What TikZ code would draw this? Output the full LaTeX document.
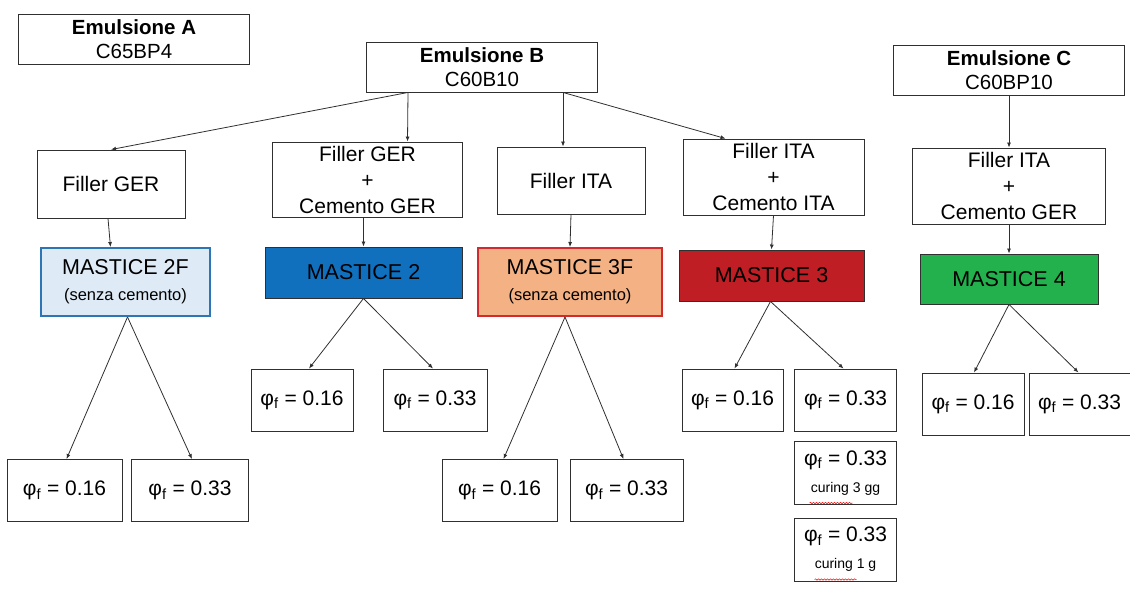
\documentclass[tikz,border=0pt]{standalone}
\usepackage{fontspec}
\setmainfont{Liberation Sans}
\usetikzlibrary{arrows.meta,decorations.pathmorphing}
\definecolor{edgegray}{HTML}{303030}
\definecolor{lightblue}{HTML}{DEEBF7}
\definecolor{midblue}{HTML}{2E75B6}
\definecolor{strongblue}{HTML}{1170BE}
\definecolor{peach}{HTML}{F4B183}
\definecolor{brightred}{HTML}{D32A2E}
\definecolor{darkred}{HTML}{BE1E24}
\definecolor{leafgreen}{HTML}{22B14C}

\begin{document}
\begin{tikzpicture}[x=1pt,y=-1pt]
\tikzstyle{every node}=[draw=edgegray,line width=0.9pt,inner sep=0pt,align=center]
\tikzstyle{emul}=[minimum width=231pt,minimum height=50pt,font=\fontsize{20.5}{24}\selectfont]
\tikzstyle{filler}=[font=\fontsize{21}{26}\selectfont]
\tikzstyle{mastice}=[font=\fontsize{21.5}{26}\selectfont]
\tikzstyle{phibox}=[minimum height=62pt,font=\fontsize{21}{24}\selectfont]
\tikzstyle{arr}=[draw=edgegray,line width=0.8pt,-{Latex[length=5pt,width=4pt]}]
\tikzstyle{squiggle}=[draw=red,line width=0.5pt,decorate,decoration={snake,amplitude=0.7pt,segment length=3pt}]
\useasboundingbox (0,0) rectangle (1130,614);

\node[emul] (eA) at (134,39) {\textbf{Emulsione A}\\C65BP4};
\node[emul] (eB) at (482,67) {\textbf{Emulsione B}\\C60B10};
\node[emul,minimum width=231pt] (eC) at (1009,70) {\textbf{Emulsione C}\\C60BP10};

\node[filler,minimum width=148pt,minimum height=68pt] (fGER) at (111,184) {Filler GER};
\node[filler,minimum width=190pt,minimum height=75pt] (fGC) at (367.5,179.5) {Filler GER\\+\\Cemento GER};
\node[filler,minimum width=148pt,minimum height=67pt] (fITA) at (571,180.5) {Filler ITA};
\node[filler,minimum width=181pt,minimum height=76pt] (fIC) at (773.5,177) {Filler ITA\\+\\Cemento ITA};
\node[filler,minimum width=193pt,minimum height=76pt] (fICG) at (1009,186) {Filler ITA\\+\\Cemento GER};

\node[mastice,fill=lightblue,draw=midblue,line width=2pt,minimum width=169pt,minimum height=68pt] (m2F) at (125.5,282) {MASTICE 2F\\{\fontsize{16.5}{19}\selectfont (senza cemento)}};
\node[mastice,fill=strongblue,minimum width=197pt,minimum height=51pt] (m2) at (363.5,272.5) {MASTICE 2};
\node[mastice,fill=peach,draw=brightred,line width=2pt,minimum width=184pt,minimum height=68pt] (m3F) at (570,282) {MASTICE 3F\\{\fontsize{16.5}{19}\selectfont (senza cemento)}};
\node[mastice,fill=darkred,minimum width=185pt,minimum height=51pt] (m3) at (771.5,275.5) {MASTICE 3};
\node[mastice,fill=leafgreen,minimum width=178pt,minimum height=50pt] (m4) at (1009,279) {MASTICE 4};

\node[phibox,minimum width=115pt] (p2Fa) at (64.5,490.5) {φ\textsubscript{f} = 0.16};
\node[phibox,minimum width=117pt] (p2Fb) at (190,490.5) {φ\textsubscript{f} = 0.33};
\node[phibox,minimum width=102pt] (p2a) at (302,400) {φ\textsubscript{f} = 0.16};
\node[phibox,minimum width=104pt] (p2b) at (435,400) {φ\textsubscript{f} = 0.33};
\node[phibox,minimum width=115pt] (p3Fa) at (499.5,490.5) {φ\textsubscript{f} = 0.16};
\node[phibox,minimum width=113pt] (p3Fb) at (626.5,490.5) {φ\textsubscript{f} = 0.33};
\node[phibox,minimum width=101pt] (p3a) at (732.5,400) {φ\textsubscript{f} = 0.16};
\node[phibox,minimum width=102pt] (p3b) at (845.5,400) {φ\textsubscript{f} = 0.33};
\node[phibox,minimum width=102pt,minimum height=63pt] (p3c) at (845.5,473) {φ\textsubscript{f} = 0.33\\[3pt]{\fontsize{14}{16}\selectfont curing 3 gg}};
\node[phibox,minimum width=102pt,minimum height=63pt] (p3d) at (845.5,549.5) {φ\textsubscript{f} = 0.33\\[3pt]{\fontsize{14}{16}\selectfont curing 1 g}};
\node[phibox,minimum width=102pt] (p4a) at (973,404) {φ\textsubscript{f} = 0.16};
\node[phibox,minimum width=101pt] (p4b) at (1079.5,404) {φ\textsubscript{f} = 0.33};

\draw[squiggle] ([xshift=-36pt,yshift=-30pt]p3c.center) -- ++(43,0);
\draw[squiggle] ([xshift=-31pt,yshift=-30pt]p3d.center) -- ++(42,0);

\draw[arr] ([xshift=-74pt]eB.south) -- (fGER.north);
\draw[arr] ([xshift=-74pt]eB.south) -- ([xshift=40pt]fGC.north);
\draw[arr] ([xshift=81pt]eB.south) -- ([xshift=-8pt]fITA.north);
\draw[arr] ([xshift=81pt]eB.south) -- ([xshift=-48pt]fIC.north);
\draw[arr] (eC.south) -- (fICG.north);

\draw[arr] ([xshift=-3pt]fGER.south) -- ([xshift=-15pt]m2F.north);
\draw[arr] ([xshift=-4pt]fGC.south) -- (m2.north);
\draw[arr] (fITA.south) -- (m3F.north);
\draw[arr] (fIC.south) -- (m3.north);
\draw[arr] (fICG.south) -- (m4.north);

\draw[arr] ([xshift=2pt]m2F.south) -- ([xshift=2pt]p2Fa.north);
\draw[arr] ([xshift=2pt]m2F.south) -- ([xshift=2pt]p2Fb.north);
\draw[arr] (m2.south) -- ([xshift=7pt]p2a.north);
\draw[arr] (m2.south) -- ([xshift=-2pt]p2b.north);
\draw[arr] ([xshift=-5pt]m3F.south) -- ([xshift=4pt]p3Fa.north);
\draw[arr] ([xshift=-5pt]m3F.south) -- ([xshift=-3pt]p3Fb.north);
\draw[arr] ([xshift=-1pt]m3.south) -- ([xshift=2pt]p3a.north);
\draw[arr] ([xshift=-1pt]m3.south) -- ([xshift=-2pt]p3b.north);
\draw[arr] (m4.south) -- ([xshift=1pt]p4a.north);
\draw[arr] (m4.south) -- ([xshift=-1pt]p4b.north);
\end{tikzpicture}
\end{document}
